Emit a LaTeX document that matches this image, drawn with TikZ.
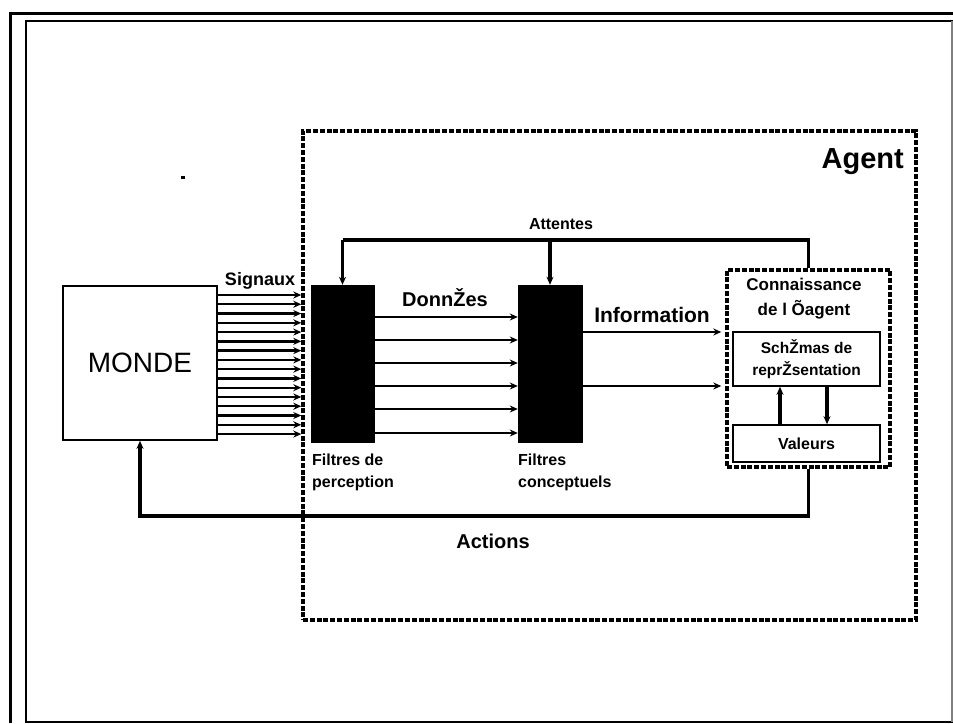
\documentclass[tikz,border=0pt]{standalone}
\usepackage{fontspec}
\setmainfont{Liberation Sans}
\usetikzlibrary{arrows.meta}
\begin{document}
\begin{tikzpicture}[x=1pt,y=-1pt,
  arr/.style={-{Stealth[length=8pt,width=7pt]}},
  boxn/.style={draw, line width=1.6pt, inner sep=0pt},
  filt/.style={fill=black, draw=black, inner sep=0pt, minimum width=63pt, minimum height=157pt},
  dbox/.style={draw, line width=3.4pt, dash pattern=on 5pt off 1.8pt, inner sep=0pt},
  heavy/.style={line width=3.4pt},
  med/.style={line width=2.4pt},
  thinar/.style={line width=2pt},
  bl/.style={font=\bfseries\fontsize{#1}{#1}\selectfont, inner sep=0pt},
  bl/.default=16,
  twol/.style={font=\bfseries\fontsize{16}{22}\selectfont, inner sep=0pt, align=#1},
]
\useasboundingbox (0,0) rectangle (953,723);
% frames
\draw[line width=3.5pt] (10.5,723) -- (10.5,13.5) -- (953,13.5);
\draw[line width=2.5pt] (26,723) -- (26,21) -- (953,21);
\draw[line width=2.5pt] (26,722) -- (953,722);
\draw[line width=1.2pt, gray] (952,21) -- (952,722);
\fill (181,176) rectangle (185,179);
% agent box
\node[dbox, minimum width=613pt, minimum height=489pt] (agent) at (609.5,375.5) {};
\node[bl=29, anchor=north east] (agentlbl) at (904,148) {Agent};
% monde
\node[boxn, minimum width=154pt, minimum height=154pt, font=\fontsize{28}{28}\selectfont] (monde) at (140,363) {MONDE};
% filters
\node[filt] (fp) at (342.5,363.5) {};
\node[filt, minimum width=64pt] (fc) at (550,363.5) {};
% connaissance
\node[dbox, minimum width=163pt, minimum height=197pt] (conn) at (808.5,368.5) {};
\node[twol=center, font=\bfseries\fontsize{17}{25}\selectfont, anchor=north] (connlbl) at (804,278) {Connaissance\\de l Õagent};
\node[boxn, minimum width=147pt, minimum height=54pt] (schem) at (806.5,359) {};
\node[twol=center, font=\bfseries\fontsize{15.5}{22}\selectfont] (schemlbl) at (schem.center) {SchŽmas de\\reprŽsentation};
\node[boxn, minimum width=147pt, minimum height=37pt, font=\bfseries\fontsize{16}{16}\selectfont] (val) at (806.5,443.5) {Valeurs};
% labels
\node[bl=18] (signaux) at (260,281) {Signaux};
\node[bl=20] (donnees) at (445,298) {DonnŽes};
\node[bl=21] (info) at (652,315) {Information};
\node[bl=16] (attentes) at (561,224) {Attentes};
\node[bl=20] (actions) at (493,541) {Actions};
\node[twol=left, anchor=north west] (fplbl) at (312,454) {Filtres de\\perception};
\node[twol=left, anchor=north west] (fclbl) at (518,454) {Filtres\\conceptuels};
% signals
\foreach \i in {0,...,15}{
  \pgfmathsetmacro{\yy}{295+\i*9.27}
  \draw[med, arr] (monde.east |- 0,\yy) -- (agent.west |- 0,\yy);
}
% donnees
\foreach \yy in {317,340,363,386,409,433}{
  \draw[thinar, arr] (fp.east |- 0,\yy) -- (fc.west |- 0,\yy);
}
% information
\foreach \yy in {332,386}{
  \draw[thinar, arr, shorten >=4pt] (fc.east |- 0,\yy) -- (conn.west |- 0,\yy);
}
% attentes
\coordinate (atl) at (fp.north |- 0,240);
\coordinate (atm) at (fc.north |- 0,240);
\coordinate (atr) at (conn.north |- 0,240);
\draw[heavy] (atl) -- (atr) -- (conn.north);
\draw[heavy, arr] (atl) -- (fp.north);
\draw[heavy, arr] (atm) -- (fc.north);
% actions
\coordinate (acr) at (conn.south |- 0,516);
\coordinate (acl) at (monde.south |- 0,516);
\draw[heavy, arr] (conn.south) -- (acr) -- (acl) -- (monde.south);
% schemas <-> valeurs
\draw[heavy, arr] (val.north -| 780,0) -- (schem.south -| 780,0);
\draw[heavy, arr] (schem.south -| 827,0) -- (val.north -| 827,0);
\end{tikzpicture}
\end{document}
